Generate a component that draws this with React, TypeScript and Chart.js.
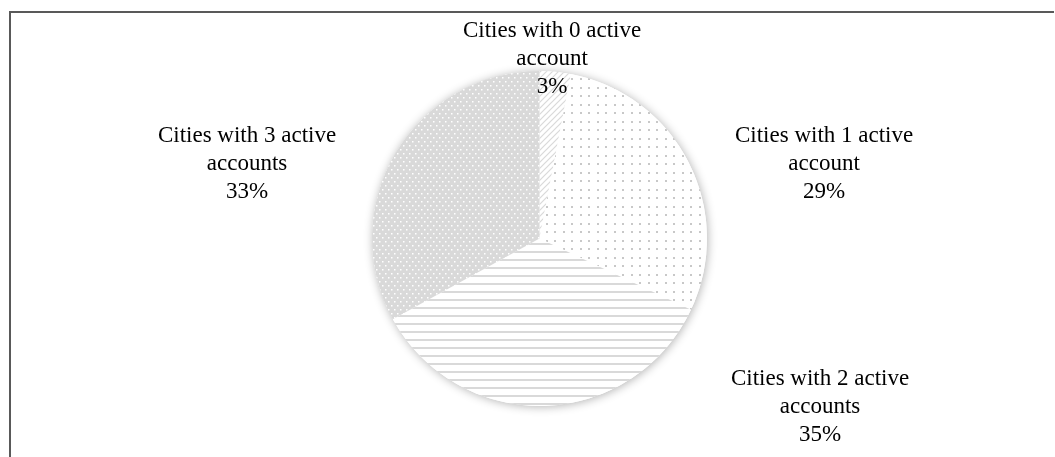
import React, { useEffect, useRef } from "react";
import { Chart, registerables } from "chart.js";

Chart.register(...registerables);

const categories = [
  "Cities with 0 active account",
  "Cities with 1 active account",
  "Cities with 2 active accounts",
  "Cities with 3 active accounts",
];
const labelLines = [
  ["Cities with 0 active", "account"],
  ["Cities with 1 active", "account"],
  ["Cities with 2 active", "accounts"],
  ["Cities with 3 active", "accounts"],
];
const values = [3, 29, 35, 33];
const percentLabels = ["3%", "29%", "35%", "33%"];

// label block centres relative to pie centre, in units of radius
const labelOffsets = [
  [0.075, -1.072],
  [1.699, -0.448],
  [1.675, 1.006],
  [-1.746, -0.448],
];

function makePattern(kind: number): CanvasPattern | string {
  const c = document.createElement("canvas");
  const g = c.getContext("2d")!;
  if (kind === 0) {
    c.width = 6; c.height = 6;
    g.fillStyle = "#ffffff"; g.fillRect(0, 0, 6, 6);
    g.strokeStyle = "#d9d9d9"; g.lineWidth = 1.2;
    g.beginPath();
    g.moveTo(-1, 7); g.lineTo(7, -1);
    g.moveTo(-4, 4); g.lineTo(4, -4);
    g.moveTo(2, 10); g.lineTo(10, 2);
    g.stroke();
  } else if (kind === 1) {
    c.width = 17; c.height = 17;
    g.fillStyle = "#ffffff"; g.fillRect(0, 0, 17, 17);
    g.fillStyle = "#c8c8c8";
    g.fillRect(2, 2, 2, 2);
    g.fillRect(10, 10, 2, 2);
    g.fillRect(10, 2, 2, 2);
    g.fillRect(2, 10, 2, 2);
  } else if (kind === 2) {
    c.width = 8; c.height = 8;
    g.fillStyle = "#ffffff"; g.fillRect(0, 0, 8, 8);
    g.fillStyle = "#d9d9d9"; g.fillRect(0, 3, 8, 2);
  } else {
    c.width = 6; c.height = 8;
    g.fillStyle = "#d9d9d9"; g.fillRect(0, 0, 6, 8);
    g.fillStyle = "#ffffff";
    g.fillRect(1, 1, 1.5, 1.5);
    g.fillRect(4, 5, 1.5, 1.5);
  }
  return g.createPattern(c, "repeat")!;
}

const framePlugin = {
  id: "frame",
  beforeDraw(chart: any) {
    const ctx = chart.ctx;
    ctx.save();
    ctx.fillStyle = "#ffffff";
    ctx.fillRect(0, 0, chart.width, chart.height);
    ctx.strokeStyle = "#595959";
    ctx.lineWidth = 2;
    ctx.beginPath();
    ctx.moveTo(10, chart.height);
    ctx.lineTo(10, 12);
    ctx.lineTo(chart.width - 1, 12);
    ctx.stroke();
    ctx.restore();
  },
};

const shadowPlugin = {
  id: "pieShadow",
  beforeDatasetsDraw(chart: any) {
    const meta = chart.getDatasetMeta(0);
    const arc = meta.data[0];
    if (!arc) return;
    const { x, y, outerRadius } = arc.getProps(["x", "y", "outerRadius"], true);
    const ctx = chart.ctx;
    ctx.save();
    ctx.shadowColor = "rgba(0,0,0,0.3)";
    ctx.shadowBlur = 10;
    ctx.shadowOffsetX = 1;
    ctx.shadowOffsetY = 1;
    ctx.fillStyle = "#ffffff";
    ctx.beginPath();
    ctx.arc(x, y, outerRadius, 0, Math.PI * 2);
    ctx.fill();
    ctx.restore();
  },
};

const labelPlugin = {
  id: "pieLabels",
  afterDatasetsDraw(chart: any) {
    const meta = chart.getDatasetMeta(0);
    const arc = meta.data[0];
    if (!arc) return;
    const { x, y, outerRadius } = arc.getProps(["x", "y", "outerRadius"], true);
    const ctx = chart.ctx;
    ctx.save();
    ctx.fillStyle = "#000000";
    ctx.font = '23px "Liberation Serif", "Times New Roman", serif';
    ctx.textAlign = "center";
    ctx.textBaseline = "middle";
    const lh = 28;
    labelLines.forEach((lines, i) => {
      const all = [...lines, percentLabels[i]];
      const cx = x + labelOffsets[i][0] * outerRadius;
      const cy = y + labelOffsets[i][1] * outerRadius;
      const top = cy - ((all.length - 1) * lh) / 2;
      all.forEach((t, j) => ctx.fillText(t, cx, top + j * lh));
    });
    ctx.restore();
  },
};

export default function App() {
  const ref = useRef<HTMLCanvasElement>(null);
  useEffect(() => {
    document.body.style.margin = "0";
    const patterns = values.map((_, i) => makePattern(i));
    const chart = new Chart(ref.current!, {
      type: "pie",
      data: {
        labels: categories,
        datasets: [
          {
            data: values,
            backgroundColor: patterns as any,
            borderWidth: 0,
          },
        ],
      },
      options: {
        animation: false,
        responsive: false,
        events: [],
        layout: { padding: { top: 71, bottom: 51, left: 24, right: 0 } },
        plugins: {
          legend: { display: false },
          tooltip: { enabled: false },
        },
      },
      plugins: [framePlugin, shadowPlugin, labelPlugin],
    });
    return () => chart.destroy();
  }, []);
  return (
    <div style={{ width: 1055, height: 457 }}>
      <canvas ref={ref} width={1055} height={457} style={{ display: "block" }} />
    </div>
  );
}
